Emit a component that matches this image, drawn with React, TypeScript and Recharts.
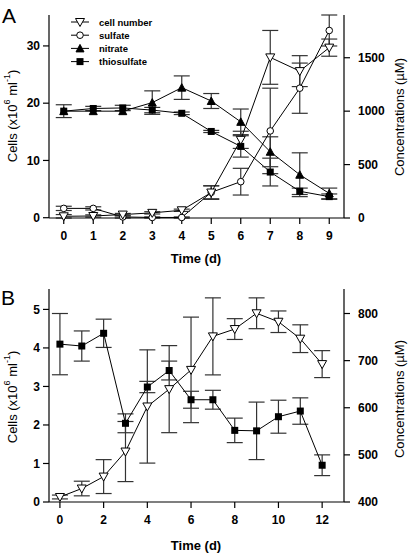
import React from 'react';
import { ComposedChart, Line, XAxis, YAxis, ErrorBar, Legend } from 'recharts';

// Panel A: days 0-9
const daysA = [0, 1, 2, 3, 4, 5, 6, 7, 8, 9];
const cellA = [0.25, 0.3, 0.55, 0.85, 1.3, 4.4, 13.6, 28.0, 25.6, 29.7];
const cellAErr = [0.3, 0.2, 0.2, 0.2, 0.2, 1.2, 1.5, 4.7, 2.7, 1.5];
const sulfateA = [90, 90, 10, 5, 5, 240, 340, 815, 1215, 1755];
const sulfateAErr = [20, 15, 10, 5, 5, 60, 125, 400, 235, 145];
const nitrateA = [1000, 1000, 1000, 1080, 1220, 1095, 900, 620, 405, 230];
const nitrateAErr = [0, 0, 0, 110, 110, 70, 120, 140, 205, 50];
const thioA = [1000, 1025, 1030, 1010, 980, 810, 670, 430, 250, 200];
const thioAErr = [60, 20, 25, 25, 12, 10, 100, 130, 30, 25];

// Panel B: days 0-12
const daysB = [0, 1, 2, 3, 4, 5, 6, 7, 8, 9, 10, 11, 12];
const cellB = [0.13, 0.35, 0.66, 1.31, 2.48, 2.93, 3.43, 4.3, 4.49, 4.9, 4.68, 4.24, 3.58];
const cellBErr = [0.05, 0.19, 0.44, 0.78, 1.47, 1.13, 1.37, 1.0, 0.27, 0.4, 0.28, 0.36, 0.35];
const thioB = [735, 731, 758, 567, 644, 679, 617, 617, 552, 551, 581, 593, 478];
const thioBErr = [65, 32, 30, 20, 12, 20, 18, 20, 26, 61, 35, 28, 22];

const ticksAL = [0, 10, 20, 30];
const ticksAR = [0, 500, 1000, 1500];
const ticksBL = [0, 1, 2, 3, 4, 5];
const ticksBR = [400, 500, 600, 700, 800];
const ticksBX = [0, 2, 4, 6, 8, 10, 12];

const FONT = '"Liberation Sans", Arial, Helvetica, sans-serif';
const ERR = '#333';

const dataA = daysA.map((d, i) => ({
  day: d,
  cell: cellA[i], cellErr: cellAErr[i],
  sulfate: sulfateA[i], sulfateErr: sulfateAErr[i],
  nitrate: nitrateA[i], nitrateErr: nitrateAErr[i],
  thio: thioA[i], thioErr: thioAErr[i],
}));

const dataB = daysB.map((d, i) => ({
  day: d,
  cell: cellB[i], cellErr: cellBErr[i],
  thio: thioB[i], thioErr: thioBErr[i],
}));

// marker shapes
const TriDown = ({ cx, cy }: any) =>
  cx == null ? null : (
    <path d={`M${cx - 4.5},${cy - 3.5}L${cx + 4.5},${cy - 3.5}L${cx},${cy + 4.5}Z`} fill="#fff" stroke="#000" strokeWidth={1} />
  );
const CircleOpen = ({ cx, cy }: any) =>
  cx == null ? null : <circle cx={cx} cy={cy} r={3.3} fill="#fff" stroke="#000" strokeWidth={1} />;
const TriUp = ({ cx, cy }: any) =>
  cx == null ? null : (
    <path d={`M${cx - 4},${cy + 3.5}L${cx + 4},${cy + 3.5}L${cx},${cy - 4}Z`} fill="#000" stroke="#000" strokeWidth={1} />
  );
const Square = ({ cx, cy }: any) =>
  cx == null ? null : <rect x={cx - 3.5} y={cy - 3.5} width={7} height={7} fill="#000" />;

const legendA = [
  { name: 'cell number', Marker: TriDown },
  { name: 'sulfate', Marker: CircleOpen },
  { name: 'nitrate', Marker: TriUp },
  { name: 'thiosulfate', Marker: Square },
];

function LegendBox() {
  return (
    <svg width={110} height={56} style={{ display: 'block' }}>
      {legendA.map((it, i) => {
        const y = 8 + i * 13.2;
        return (
          <g key={it.name}>
            <line x1={6} x2={24} y1={y} y2={y} stroke="#000" strokeWidth={1} />
            <it.Marker cx={15} cy={y} />
            <text x={34} y={y} dominantBaseline="central" fontFamily={FONT} fontWeight="bold" fontSize={9.5}>
              {it.name}
            </text>
          </g>
        );
      })}
    </svg>
  );
}

const tickStyle = { fontSize: 12, fontWeight: 'bold' as const, fill: '#000', fontFamily: FONT };

const CellsTitle = ({ cx, cy }: { cx: number; cy: number }) => (
  <text transform={`translate(${cx},${cy}) rotate(-90)`} textAnchor="middle" dominantBaseline="central"
    fontFamily={FONT} fontSize={13} fill="#000">
    Cells (x10<tspan dy={-5} fontSize={9}>6</tspan><tspan dy={5}> ml</tspan>
    <tspan dy={-5} fontSize={9}>-1</tspan><tspan dy={5}>)</tspan>
  </text>
);

const ConcTitle = ({ cx, cy }: { cx: number; cy: number }) => (
  <text transform={`translate(${cx},${cy}) rotate(-90)`} textAnchor="middle" dominantBaseline="central"
    fontFamily={FONT} fontSize={13} fill="#000">
    Concentrations (µM)
  </text>
);

const TimeTitle = ({ cx, cy }: { cx: number; cy: number }) => (
  <text x={cx} y={cy} textAnchor="middle" dominantBaseline="central" fontFamily={FONT} fontWeight="bold" fontSize={13} fill="#000">
    Time (d)
  </text>
);

const axisProps = {
  stroke: '#000',
  tickLine: { stroke: '#000', strokeWidth: 1.2 },
  axisLine: { stroke: '#000', strokeWidth: 1.2 },
  tickSize: 6,
  tick: tickStyle,
};

function PanelA() {
  return (
    <ComposedChart width={408} height={277} data={dataA} margin={{ top: 15, right: 0, bottom: 29, left: 0 }}>
      <XAxis dataKey="day" type="number" domain={[-0.5, 9.5]} ticks={daysA} height={30} tickMargin={7} {...axisProps}
        label={<TimeTitle cx={196} cy={258} />} />
      <XAxis xAxisId="top" orientation="top" dataKey="day" type="number" domain={[-0.5, 9.5]} height={0} tick={false} tickLine={false}
        axisLine={{ stroke: '#000', strokeWidth: 1.2 }} />
      <YAxis yAxisId="l" domain={[0, 35.4]} ticks={ticksAL} width={49} tickMargin={3} {...axisProps}
        label={<CellsTitle cx={12} cy={116} />} />
      <YAxis yAxisId="r" orientation="right" domain={[0, 1831]} ticks={ticksAR} width={64} tickMargin={8} {...axisProps}
        label={<ConcTitle cx={399} cy={117} />} />
      <Legend layout="vertical" align="center" verticalAlign="middle" content={<LegendBox />}
        wrapperStyle={{ left: 65, top: 14, width: 110, height: 56 }} />
      <Line yAxisId="r" dataKey="thio" name="thiosulfate" stroke="#000" strokeWidth={1} dot={(p: any) => <Square key={p.index} {...p} />} isAnimationActive={false}>
        <ErrorBar dataKey="thioErr" width={8} stroke={ERR} strokeWidth={1.2} />
      </Line>
      <Line yAxisId="r" dataKey="nitrate" name="nitrate" stroke="#000" strokeWidth={1} dot={(p: any) => <TriUp key={p.index} {...p} />} isAnimationActive={false}>
        <ErrorBar dataKey="nitrateErr" width={8} stroke={ERR} strokeWidth={1.2} />
      </Line>
      <Line yAxisId="r" dataKey="sulfate" name="sulfate" stroke="#000" strokeWidth={1} dot={(p: any) => <CircleOpen key={p.index} {...p} />} isAnimationActive={false}>
        <ErrorBar dataKey="sulfateErr" width={8} stroke={ERR} strokeWidth={1.2} />
      </Line>
      <Line yAxisId="l" dataKey="cell" name="cell number" stroke="#000" strokeWidth={1} dot={(p: any) => <TriDown key={p.index} {...p} />} isAnimationActive={false}>
        <ErrorBar dataKey="cellErr" width={8} stroke={ERR} strokeWidth={1.2} />
      </Line>
    </ComposedChart>
  );
}

function PanelB() {
  return (
    <ComposedChart width={408} height={277} data={dataB} margin={{ top: 12, right: 0, bottom: 22, left: 0 }}>
      <XAxis dataKey="day" type="number" domain={[-0.5, 13]} ticks={ticksBX} height={30} tickMargin={7} {...axisProps}
        label={<TimeTitle cx={196} cy={268} />} />
      <XAxis xAxisId="top" orientation="top" dataKey="day" type="number" domain={[-0.5, 13]} height={0} tick={false} tickLine={false}
        axisLine={{ stroke: '#000', strokeWidth: 1.2 }} />
      <YAxis yAxisId="l" domain={[0, 5.53]} ticks={ticksBL} width={49} tickMargin={3} {...axisProps}
        label={<CellsTitle cx={12} cy={120} />} />
      <YAxis yAxisId="r" orientation="right" domain={[400, 852]} ticks={ticksBR} width={64} tickMargin={8} {...axisProps}
        label={<ConcTitle cx={399} cy={122} />} />
      <Line yAxisId="r" dataKey="thio" name="thiosulfate" stroke="#000" strokeWidth={1} dot={(p: any) => <Square key={p.index} {...p} />} isAnimationActive={false}>
        <ErrorBar dataKey="thioErr" width={8} stroke={ERR} strokeWidth={1.2} />
      </Line>
      <Line yAxisId="l" dataKey="cell" name="cell number" stroke="#000" strokeWidth={1} dot={(p: any) => <TriDown key={p.index} {...p} />} isAnimationActive={false}>
        <ErrorBar dataKey="cellErr" width={8} stroke={ERR} strokeWidth={1.2} />
      </Line>
    </ComposedChart>
  );
}

export default function App() {
  return (
    <div style={{ position: 'absolute', left: 0, top: 0, width: 408, height: 554, background: '#fff', fontFamily: FONT }}>
      <div style={{ position: 'absolute', left: 0, top: 0 }}>
        <PanelA />
      </div>
      <div style={{ position: 'absolute', left: 0, top: 277 }}>
        <PanelB />
      </div>
      <svg width={408} height={554} style={{ position: 'absolute', left: 0, top: 0, pointerEvents: 'none' }}>
        <text x={2} y={23} fontFamily={FONT} fontSize={21} fill="#000">A</text>
        <text x={1} y={305} fontFamily={FONT} fontSize={21} fill="#000">B</text>
      </svg>
    </div>
  );
}
